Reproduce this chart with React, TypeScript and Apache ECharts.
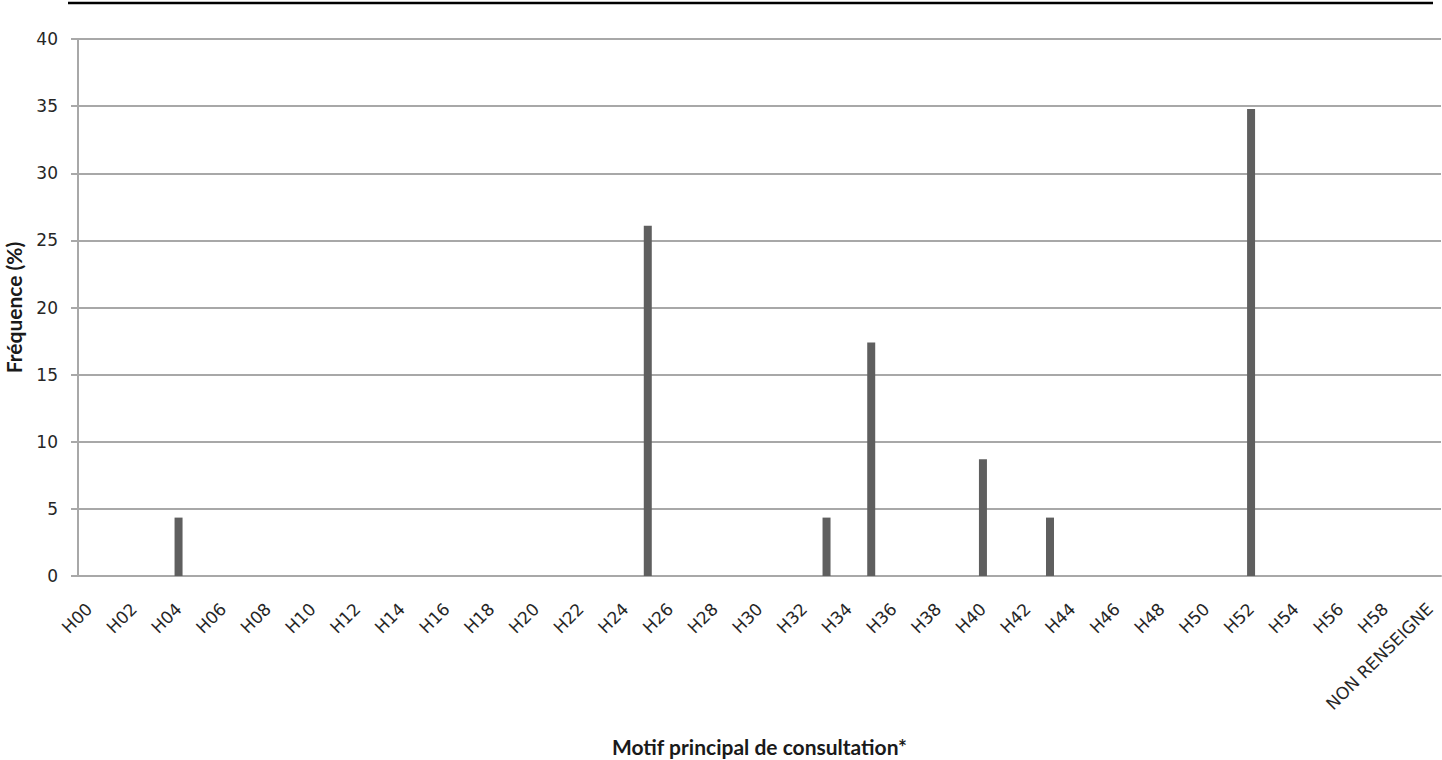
import React, { useEffect, useRef } from "react";
import * as echarts from "echarts";

const codes: string[] = [];
for (let i = 0; i < 60; i++) codes.push("H" + (i < 10 ? "0" + i : String(i)));
const categories: string[] = [...codes, "NON RENSEIGNE"];

const nonZeroCodes = ["H04", "H25", "H33", "H35", "H40", "H43", "H52"];
const nonZeroValues = [4.35, 26.09, 4.35, 17.39, 8.7, 4.35, 34.78];

const values: number[] = categories.map((c) => {
  const k = nonZeroCodes.indexOf(c);
  return k >= 0 ? nonZeroValues[k] : 0;
});

const yTicks = { min: 0, max: 40, interval: 5 };

export default function App() {
  const ref = useRef<HTMLDivElement>(null);
  useEffect(() => {
    if (!ref.current) return;
    const chart = echarts.init(ref.current, undefined, { renderer: "svg" });
    chart.setOption({
      animation: false,
      backgroundColor: "#ffffff",
      grid: {
        left: 78,
        top: 39,
        right: 1,
        bottom: 184,
        containLabel: false,
        outerBoundsMode: "none",
      },
      graphic: [
        {
          type: "line",
          shape: { x1: 68, y1: 3, x2: 1433, y2: 3 },
          style: { stroke: "#000000", lineWidth: 2.5 },
        },
      ],
      xAxis: {
        type: "category",
        data: categories,
        boundaryGap: true,
        name: "Motif principal de consultation*",
        nameLocation: "middle",
        nameGap: 160,
        nameTextStyle: {
          fontFamily: "Lato",
          fontWeight: "bold",
          fontSize: 21,
          color: "#1a1a1a",
        },
        axisLine: { show: true, lineStyle: { color: "#a8a8a8", width: 2 } },
        axisTick: { show: false },
        axisLabel: {
          interval: 1,
          rotate: 45,
          fontFamily: "DejaVu Sans",
          fontSize: 17,
          color: "#262626",
          margin: 30,
        },
      },
      yAxis: {
        type: "value",
        min: yTicks.min,
        max: yTicks.max,
        interval: yTicks.interval,
        name: "Fréquence (%)",
        nameLocation: "middle",
        nameGap: 54,
        nameTextStyle: {
          fontFamily: "Lato",
          fontWeight: "bold",
          fontSize: 21,
          color: "#1a1a1a",
        },
        axisLine: { show: true, lineStyle: { color: "#a8a8a8", width: 2 } },
        axisTick: { show: true, length: 7, lineStyle: { color: "#a8a8a8", width: 2 } },
        splitLine: { show: true, lineStyle: { color: "#a8a8a8", width: 2 } },
        axisLabel: {
          fontFamily: "DejaVu Sans",
          fontSize: 17,
          color: "#262626",
          margin: 20,
        },
      },
      series: [
        {
          type: "bar",
          data: values,
          barWidth: 8,
          itemStyle: { color: "#5f5f5f" },
        },
      ],
    });
    return () => chart.dispose();
  }, []);
  return (
    <div
      ref={ref}
      style={{ position: "fixed", left: 0, top: 0, width: 1442, height: 760, background: "#fff" }}
    />
  );
}
